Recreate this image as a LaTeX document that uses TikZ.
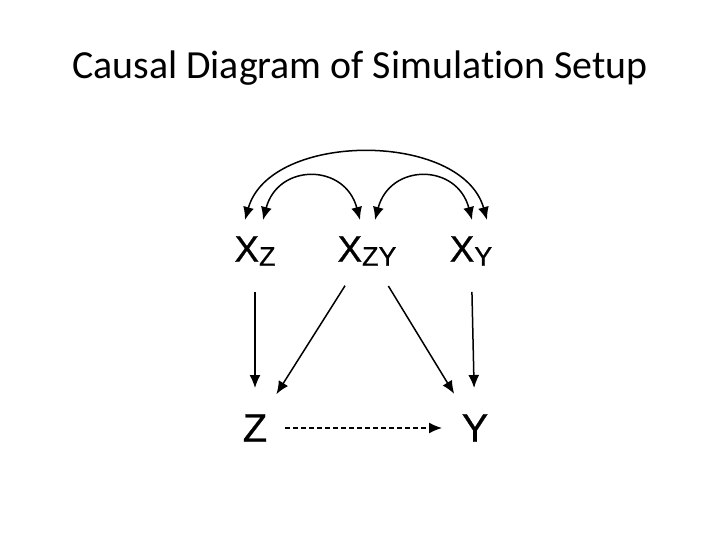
\documentclass[tikz,border=0pt]{standalone}
\usepackage{fontspec}
\setmainfont[FakeBold=0.6]{Liberation Sans}
\newfontfamily\titlefont[Ligatures=NoCommon]{Carlito}
\usetikzlibrary{arrows.meta,positioning}
\tikzset{
    var/.style={
           inner sep=0pt,
           font=\fontsize{37}{37}\selectfont
           },
    outcome/.style={
           inner sep=0pt,
           font=\fontsize{40}{40}\selectfont
           },
    causal/.style={
           -{Latex[length=13bp,width=11bp]},
           line width=1.5bp,
           shorten <=41bp,
           shorten >=40bp
           },
    confound/.style={
           {Latex[length=13bp,width=11bp]}-{Latex[length=13bp,width=11bp]},
           line width=1.5bp
           }
}
\newcommand{\lowsub}[1]{\raisebox{-4bp}{\fontsize{27}{27}\selectfont #1}}

\begin{document}
\begin{tikzpicture}[x=1bp, y=1bp, node distance=100bp, on grid]
\useasboundingbox (0,0) rectangle (720,-540);
   \node[font=\titlefont\fontsize{40}{40}\selectfont, anchor=base] (title) at (360,-79) {Causal Diagram of Simulation Setup};
   \node[var] (xz) at (255,-251) {X\lowsub{Z}};
   \node[var] (xzy)[right=112bp of xz] {X\lowsub{ZY}};
   \node[var] (xy)[right=104bp of xzy] {X\lowsub{Y}};
   \node[outcome] (z)[below=177bp of xz] {Z};
   \node[outcome] (y)[right=220bp of z] {Y};
   % direct effects
   \draw[causal] (xz.center) -- (z.center);
   \draw[causal] (xzy.center) -- (z.center);
   \draw[causal] (xzy.center) -- (y.center);
   \draw[causal] (xy.center) -- (y.center);
   \draw[causal, dash pattern=on 5bp off 3bp, shorten <=30bp, shorten >=33bp] (z.center) -- (y.center);
   % correlated covariates
   \draw[confound] ([xshift=-10bp,yshift=31bp]xz.center) .. controls +(25,89) and +(-25,89) .. ([xshift=16bp,yshift=31bp]xy.center);
   \draw[confound] ([xshift=8bp,yshift=31bp]xz.center) .. controls +(15,57) and +(-15,57) .. ([xshift=-7bp,yshift=31bp]xzy.center);
   \draw[confound] ([xshift=8bp,yshift=31bp]xzy.center) .. controls +(15,57) and +(-15,57) .. ([xshift=1bp,yshift=31bp]xy.center);
\end{tikzpicture}
\end{document}
